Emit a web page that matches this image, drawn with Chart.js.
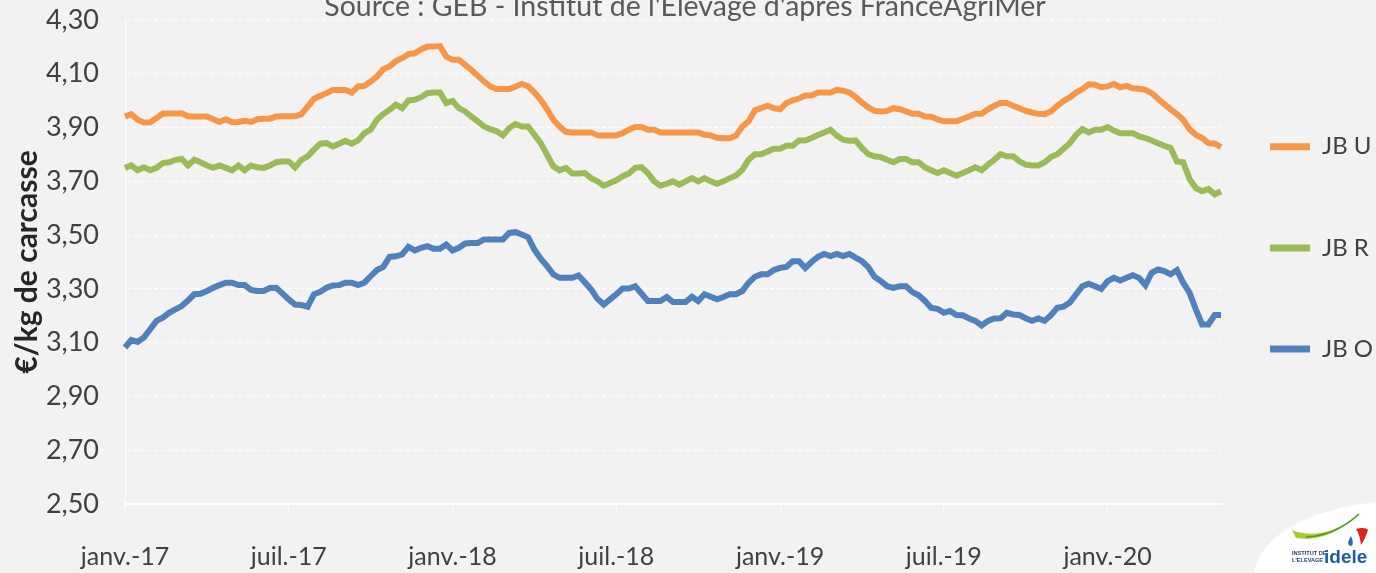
<!DOCTYPE html>
<html lang="fr">
<head>
<meta charset="utf-8">
<title>Prix JB U / R / O</title>
<script src="https://cdn.jsdelivr.net/npm/chart.js@4.4.1/dist/chart.umd.min.js"></script>
<style>
    html, body { margin: 0; padding: 0; background: #f2f2f2; }
    #wrap { position: relative; width: 1376px; height: 573px; overflow: hidden; background: #f2f2f2; }
    #chart { display: block; }
    #source {
        position: absolute; left: 0; width: 1370px; top: -9px;
        text-align: center; white-space: nowrap;
        font-family: 'Century Gothic', 'Lato', sans-serif; font-size: 28.5px; line-height: 28.5px;
        color: #595959;
    }
    #logo { position: absolute; left: 1240px; top: 500px; }
</style>
</head>
<body>
<div id="wrap">
    <canvas id="chart" width="1376" height="573"></canvas>
    <div id="source">Source : GEB - Institut de l'Elevage d'après FranceAgriMer</div>
    <svg id="logo" width="136" height="73" viewBox="0 0 136 73">
        <path d="M14 73 C 20 36 66 10 136 2 L136 73 Z" fill="#ffffff"/>
        <path d="M52 30 C 70 38 98 34 120 12 C 104 30 80 42 56 38 Z" fill="#a8cc2e"/>
        <path d="M66 37 C 88 36 106 26 119 14" fill="none" stroke="#4a9a2c" stroke-width="1.6"/>
        <path d="M116 29 C 122 27 127 28 128 30 C 126 36 124 41 121 45 C 120 38 119 33 116 29 Z" fill="#e2231a"/>
        <path d="M111 36 C 108 41 107 44 110 46 C 113 46 114 43 111 36 Z" fill="#2b6cb4"/>
        <text x="52" y="55" font-family="Liberation Sans, Arial, sans-serif" font-size="5.6" font-weight="bold" fill="#1f3f7a">INSTITUT DE</text>
        <text x="52" y="62" font-family="Liberation Sans, Arial, sans-serif" font-size="5.6" font-weight="bold" fill="#1f3f7a">L'ELEVAGE</text>
        <text x="84" y="63" font-family="Liberation Sans, Arial, sans-serif" font-size="19" font-weight="bold" fill="#1d5ca8">idele</text>
    </svg>
</div>
<script>
// Prix hebdomadaires des jeunes bovins (€/kg de carcasse), janv. 2017 -> mai 2020

const tickWeeks = [0, 26, 52, 78, 104, 130, 156];
const tickLabels = ['janv.-17', 'juil.-17', 'janv.-18', 'juil.-18', 'janv.-19', 'juil.-19', 'janv.-20'];

const seriesNames = ['JB U', 'JB R', 'JB O'];
const seriesColors = ['#F79646', '#9BBB59', '#4F81BD'];

const jbU = [
    3.941, 3.950, 3.929, 3.919, 3.920, 3.935, 3.952, 3.952, 3.952, 3.953,
    3.942, 3.941, 3.941, 3.941, 3.931, 3.921, 3.931, 3.920, 3.921, 3.925,
    3.921, 3.931, 3.933, 3.933, 3.941, 3.942, 3.942, 3.942, 3.950, 3.978,
    4.007, 4.018, 4.028, 4.040, 4.040, 4.040, 4.030, 4.053, 4.055, 4.071,
    4.090, 4.117, 4.127, 4.147, 4.158, 4.173, 4.176, 4.191, 4.201, 4.201,
    4.203, 4.164, 4.152, 4.152, 4.133, 4.114, 4.093, 4.071, 4.053, 4.043,
    4.043, 4.043, 4.053, 4.062, 4.053, 4.030, 4.003, 3.968, 3.929, 3.904,
    3.884, 3.882, 3.882, 3.882, 3.882, 3.871, 3.870, 3.870, 3.871, 3.879,
    3.892, 3.902, 3.902, 3.892, 3.892, 3.882, 3.882, 3.882, 3.882, 3.882,
    3.882, 3.882, 3.873, 3.871, 3.862, 3.860, 3.860, 3.870, 3.904, 3.923,
    3.964, 3.972, 3.981, 3.972, 3.968, 3.991, 4.001, 4.008, 4.019, 4.019,
    4.030, 4.030, 4.030, 4.040, 4.037, 4.030, 4.013, 3.993, 3.975, 3.962,
    3.960, 3.962, 3.972, 3.968, 3.960, 3.951, 3.951, 3.941, 3.940, 3.930,
    3.923, 3.923, 3.923, 3.933, 3.941, 3.951, 3.951, 3.968, 3.981, 3.991,
    3.991, 3.981, 3.972, 3.962, 3.956, 3.951, 3.950, 3.960, 3.981, 3.999,
    4.012, 4.030, 4.043, 4.061, 4.059, 4.050, 4.053, 4.062, 4.050, 4.055,
    4.046, 4.044, 4.040, 4.028, 4.007, 3.987, 3.968, 3.950, 3.929, 3.894,
    3.873, 3.861, 3.842, 3.840, 3.827
];

const jbR = [
    3.750, 3.759, 3.741, 3.752, 3.741, 3.750, 3.768, 3.771, 3.780, 3.783,
    3.759, 3.780, 3.771, 3.759, 3.750, 3.759, 3.750, 3.741, 3.759, 3.741,
    3.759, 3.752, 3.750, 3.759, 3.771, 3.774, 3.774, 3.752, 3.780, 3.793,
    3.818, 3.840, 3.842, 3.830, 3.840, 3.851, 3.840, 3.852, 3.879, 3.892,
    3.929, 3.950, 3.966, 3.985, 3.972, 4.001, 4.003, 4.013, 4.028, 4.030,
    4.030, 3.991, 3.999, 3.972, 3.960, 3.941, 3.923, 3.904, 3.894, 3.886,
    3.871, 3.898, 3.913, 3.904, 3.904, 3.873, 3.842, 3.799, 3.756, 3.741,
    3.750, 3.729, 3.729, 3.731, 3.712, 3.700, 3.684, 3.694, 3.704, 3.719,
    3.729, 3.750, 3.753, 3.731, 3.700, 3.684, 3.691, 3.700, 3.688, 3.700,
    3.712, 3.700, 3.712, 3.700, 3.691, 3.700, 3.712, 3.722, 3.743, 3.780,
    3.801, 3.801, 3.811, 3.821, 3.821, 3.832, 3.832, 3.852, 3.852, 3.861,
    3.872, 3.882, 3.892, 3.870, 3.855, 3.851, 3.852, 3.824, 3.801, 3.793,
    3.790, 3.780, 3.771, 3.783, 3.783, 3.771, 3.771, 3.752, 3.741, 3.731,
    3.741, 3.731, 3.721, 3.731, 3.741, 3.752, 3.741, 3.762, 3.780, 3.801,
    3.793, 3.793, 3.774, 3.762, 3.759, 3.759, 3.771, 3.790, 3.801, 3.821,
    3.842, 3.873, 3.894, 3.882, 3.892, 3.892, 3.902, 3.889, 3.879, 3.879,
    3.879, 3.867, 3.861, 3.852, 3.842, 3.832, 3.824, 3.774, 3.771, 3.709,
    3.675, 3.663, 3.672, 3.651, 3.663
];

const jbO = [
    3.082, 3.110, 3.103, 3.119, 3.150, 3.181, 3.193, 3.211, 3.224, 3.236,
    3.257, 3.280, 3.282, 3.292, 3.304, 3.314, 3.323, 3.323, 3.314, 3.314,
    3.296, 3.292, 3.292, 3.303, 3.304, 3.283, 3.261, 3.242, 3.240, 3.234,
    3.280, 3.289, 3.304, 3.313, 3.314, 3.323, 3.323, 3.314, 3.323, 3.347,
    3.370, 3.382, 3.419, 3.421, 3.428, 3.456, 3.443, 3.453, 3.459, 3.449,
    3.449, 3.465, 3.443, 3.453, 3.469, 3.471, 3.471, 3.484, 3.484, 3.484,
    3.484, 3.508, 3.511, 3.502, 3.492, 3.446, 3.412, 3.385, 3.354, 3.341,
    3.341, 3.341, 3.350, 3.325, 3.298, 3.263, 3.242, 3.261, 3.280, 3.301,
    3.301, 3.310, 3.283, 3.255, 3.255, 3.255, 3.270, 3.251, 3.251, 3.251,
    3.271, 3.255, 3.280, 3.271, 3.261, 3.270, 3.280, 3.280, 3.292, 3.323,
    3.345, 3.354, 3.354, 3.370, 3.378, 3.382, 3.403, 3.403, 3.378, 3.400,
    3.419, 3.430, 3.422, 3.430, 3.422, 3.430, 3.416, 3.403, 3.381, 3.345,
    3.329, 3.310, 3.304, 3.310, 3.310, 3.288, 3.276, 3.255, 3.229, 3.226,
    3.211, 3.218, 3.203, 3.202, 3.190, 3.181, 3.164, 3.181, 3.190, 3.191,
    3.211, 3.205, 3.203, 3.191, 3.181, 3.190, 3.181, 3.202, 3.230, 3.234,
    3.249, 3.280, 3.310, 3.319, 3.310, 3.300, 3.329, 3.341, 3.331, 3.341,
    3.351, 3.341, 3.314, 3.360, 3.372, 3.366, 3.354, 3.370, 3.323, 3.286,
    3.224, 3.168, 3.168, 3.203, 3.203
];

// Weekly category labels (one per price quote, starting first week of 2017)
const weekLabels = [];
const firstWeek = new Date(2017, 0, 2);
for (let i = 0; i < jbU.length; i++) {
    const d = new Date(firstWeek);
    d.setDate(firstWeek.getDate() + 7 * i);
    weekLabels.push(d.toISOString().slice(0, 10));
}

const FONT = "'Century Gothic', 'Lato', sans-serif";
const textColor = '#404040';
const gridColor = '#ffffff';

function formatPrice(value) {
    return value.toFixed(2).replace('.', ',');
}

const ctx = document.getElementById('chart').getContext('2d');

window.priceChart = new Chart(ctx, {
    type: 'line',
    data: {
        labels: weekLabels,
        datasets: [jbU, jbR, jbO].map((values, i) => ({
            label: seriesNames[i],
            data: values,
            borderColor: seriesColors[i],
            backgroundColor: seriesColors[i],
            borderWidth: 6,
            pointRadius: 0,
            tension: 0,
            fill: false
        }))
    },
    options: {
        responsive: false,
        animation: false,
        layout: {
            padding: { left: 0, right: 0, top: 20, bottom: 0 }
        },
        scales: {
            x: {
                type: 'category',
                offset: false,
                afterFit: function(scale) {
                    scale.height = 69;
                },
                grid: {
                    drawOnChartArea: false,
                    drawTicks: true,
                    tickLength: 8,
                    color: gridColor
                },
                border: {
                    display: true,
                    color: gridColor,
                    width: 2
                },
                ticks: {
                    autoSkip: false,
                    maxRotation: 0,
                    minRotation: 0,
                    padding: 30,
                    color: textColor,
                    font: { family: FONT, size: 25 },
                    callback: function(value, index) {
                        const pos = tickWeeks.indexOf(index);
                        return pos >= 0 ? tickLabels[pos] : null;
                    }
                }
            },
            y: {
                min: 2.5,
                max: 4.3,
                afterFit: function(scale) {
                    scale.width = 125;
                },
                grid: {
                    color: gridColor,
                    lineWidth: 1,
                    // invisible tick marks keep the labels away from the plot
                    drawTicks: true,
                    tickLength: 26,
                    tickColor: 'rgba(0,0,0,0)'
                },
                border: {
                    display: true,
                    color: gridColor,
                    width: 1,
                    dash: [4, 3]
                },
                ticks: {
                    stepSize: 0.2,
                    padding: 0,
                    color: textColor,
                    font: { family: FONT, size: 27 },
                    callback: function(value) {
                        return formatPrice(value);
                    }
                },
                title: {
                    display: true,
                    text: '€/kg de carcasse',
                    color: '#262626',
                    padding: { top: 9, bottom: 0 },
                    font: { family: FONT, size: 30, weight: 'bold' }
                }
            }
        },
        plugins: {
            title: { display: false },
            legend: {
                display: true,
                position: 'right',
                align: 'center',
                fullSize: false,
                maxWidth: 155,
                labels: {
                    boxWidth: 40,
                    boxHeight: 7,
                    padding: 49,
                    color: textColor,
                    font: { family: FONT, size: 24, lineHeight: 2.175 },
                    generateLabels: function(chart) {
                        // array text -> item height follows the font line height
                        const items = Chart.defaults.plugins.legend.labels.generateLabels(chart);
                        items.forEach(item => {
                            item.text = [item.text];
                            item.lineWidth = 0;
                        });
                        return items;
                    }
                }
            },
            tooltip: { enabled: false }
        }
    }
});
</script>
</body>
</html>
